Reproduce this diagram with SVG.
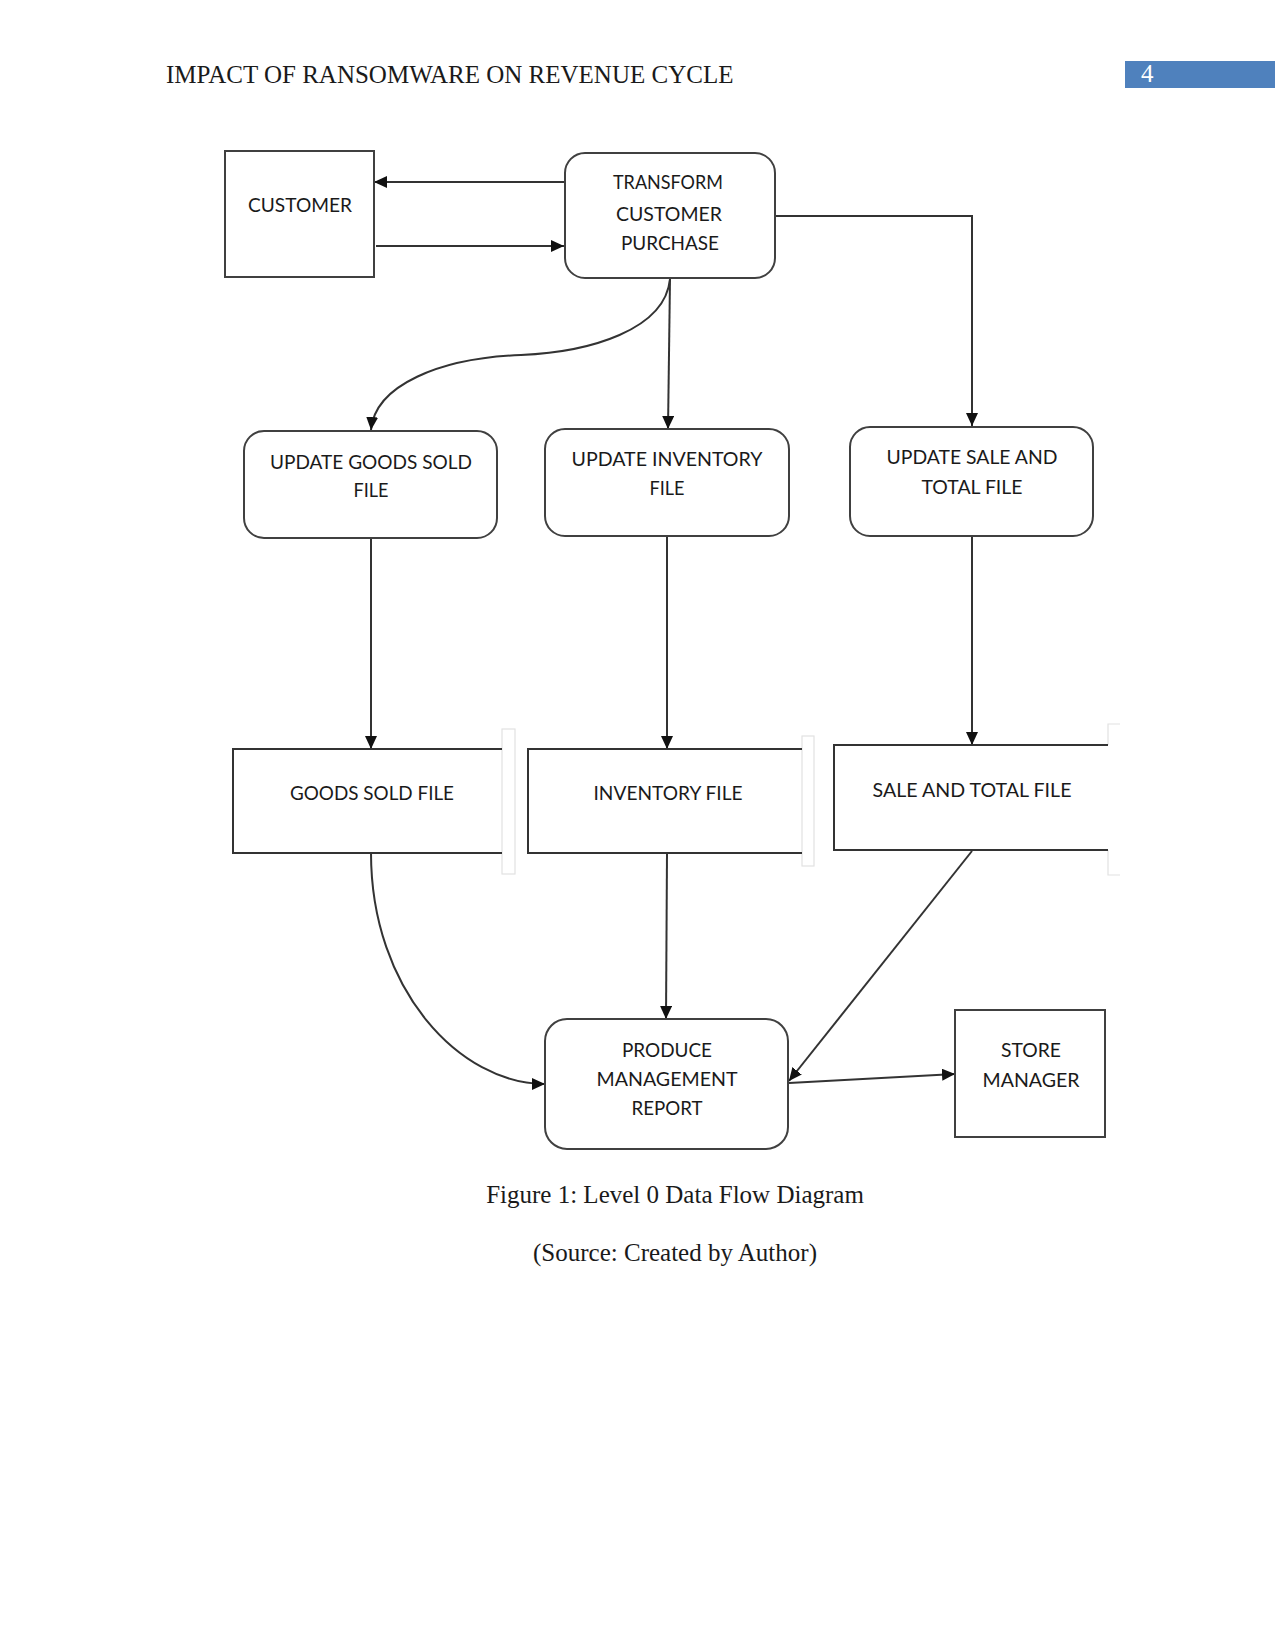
<svg xmlns="http://www.w3.org/2000/svg" width="1275" height="1650" viewBox="0 0 1275 1650">
<style>
.box{fill:#fff;stroke:#404040;stroke-width:2}
.ln{fill:none;stroke:#333;stroke-width:2}
.arr{fill:none;stroke:#333;stroke-width:2;marker-end:url(#ah)}
.t{font-family:Lato,"Noto Sans",sans-serif;font-size:20px;fill:#1a1a1a;text-anchor:middle}
.hd{font-family:"Liberation Serif","Times New Roman",serif;font-size:25px;fill:#1a1a1a}
.gr{fill:none;stroke:#e2e2e2;stroke-width:1.2}
</style>
<defs>
<marker id="ah" markerUnits="userSpaceOnUse" markerWidth="14" markerHeight="12" refX="13" refY="6" orient="auto">
<path d="M0,0 L13,6 L0,12 z" fill="#111"/>
</marker>
</defs>
<rect width="1275" height="1650" fill="#fff"/>
<g id="header">
<text class="hd" x="166" y="83">IMPACT OF RANSOMWARE ON REVENUE CYCLE</text>
<rect x="1125" y="61" width="150" height="27" fill="#4F81BD"/>
<text class="hd" x="1141" y="82" style="fill:#fff">4</text>
</g>
<g id="connectors">
<line class="arr" x1="565" y1="182" x2="374" y2="182"/>
<line class="arr" x1="376" y1="246" x2="564" y2="246"/>
<polyline class="arr" points="775,216 972,216 972,426"/>
<path class="arr" d="M670,279 C665,330 590,352 521,355 C440,358 375,385 371,430"/>
<line class="arr" x1="670" y1="279" x2="668" y2="429"/>
<line class="arr" x1="371" y1="538" x2="371" y2="749"/>
<line class="arr" x1="667" y1="536" x2="667" y2="749"/>
<line class="arr" x1="972" y1="536" x2="972" y2="745"/>
<path class="arr" d="M371,853 C371,990 460,1084 545,1084"/>
<line class="arr" x1="667" y1="853" x2="666" y2="1019"/>
<line class="arr" x1="972" y1="851" x2="789" y2="1081"/>
<line class="arr" x1="789" y1="1083" x2="955" y2="1074"/>
</g>
<g id="customer">
<rect class="box" x="225" y="151" width="149" height="126"/>
<text class="t" x="300" y="212" textLength="104" lengthAdjust="spacingAndGlyphs">CUSTOMER</text>
</g>
<g id="transform">
<rect class="box" x="565" y="153" width="210" height="125" rx="20"/>
<text class="t" x="668" y="189" textLength="110" lengthAdjust="spacingAndGlyphs">TRANSFORM</text>
<text class="t" x="669" y="221" textLength="106" lengthAdjust="spacingAndGlyphs">CUSTOMER</text>
<text class="t" x="670" y="250" textLength="98" lengthAdjust="spacingAndGlyphs">PURCHASE</text>
</g>
<g id="update-goods">
<rect class="box" x="244" y="431" width="253" height="107" rx="20"/>
<text class="t" x="371" y="469" textLength="202" lengthAdjust="spacingAndGlyphs">UPDATE GOODS SOLD</text>
<text class="t" x="371" y="497" textLength="35" lengthAdjust="spacingAndGlyphs">FILE</text>
</g>
<g id="update-inventory">
<rect class="box" x="545" y="429" width="244" height="107" rx="20"/>
<text class="t" x="667" y="466" textLength="191" lengthAdjust="spacingAndGlyphs">UPDATE INVENTORY</text>
<text class="t" x="667" y="495" textLength="35" lengthAdjust="spacingAndGlyphs">FILE</text>
</g>
<g id="update-sale">
<rect class="box" x="850" y="427" width="243" height="109" rx="20"/>
<text class="t" x="972" y="464" textLength="171" lengthAdjust="spacingAndGlyphs">UPDATE SALE AND</text>
<text class="t" x="972" y="494" textLength="101" lengthAdjust="spacingAndGlyphs">TOTAL FILE</text>
</g>
<g id="goods-file">
<rect class="gr" x="502" y="729" width="13" height="145"/>
<path class="ln" d="M502,749 H233 V853 H502"/>
<text class="t" x="372" y="800" textLength="164" lengthAdjust="spacingAndGlyphs">GOODS SOLD FILE</text>
</g>
<g id="inventory-file">
<rect class="gr" x="802" y="736" width="12" height="130"/>
<path class="ln" d="M802,749 H528 V853 H802"/>
<text class="t" x="668" y="800" textLength="149" lengthAdjust="spacingAndGlyphs">INVENTORY FILE</text>
</g>
<g id="sale-file">
<path class="gr" d="M1120,724 H1108 V745 M1108,850 V875 H1120"/>
<path class="ln" d="M1108,745 H834 V850 H1108"/>
<text class="t" x="972" y="797" textLength="199" lengthAdjust="spacingAndGlyphs">SALE AND TOTAL FILE</text>
</g>
<g id="produce">
<rect class="box" x="545" y="1019" width="243" height="130" rx="22"/>
<text class="t" x="667" y="1057" textLength="90" lengthAdjust="spacingAndGlyphs">PRODUCE</text>
<text class="t" x="667" y="1086" textLength="141" lengthAdjust="spacingAndGlyphs">MANAGEMENT</text>
<text class="t" x="667" y="1115" textLength="71" lengthAdjust="spacingAndGlyphs">REPORT</text>
</g>
<g id="store-manager">
<rect class="box" x="955" y="1010" width="150" height="127"/>
<text class="t" x="1031" y="1057" textLength="60" lengthAdjust="spacingAndGlyphs">STORE</text>
<text class="t" x="1031" y="1087" textLength="97" lengthAdjust="spacingAndGlyphs">MANAGER</text>
</g>
<g id="caption">
<text class="hd" x="675" y="1203" text-anchor="middle">Figure 1: Level 0 Data Flow Diagram</text>
<text class="hd" x="675" y="1261" text-anchor="middle">(Source: Created by Author)</text>
</g>
</svg>
